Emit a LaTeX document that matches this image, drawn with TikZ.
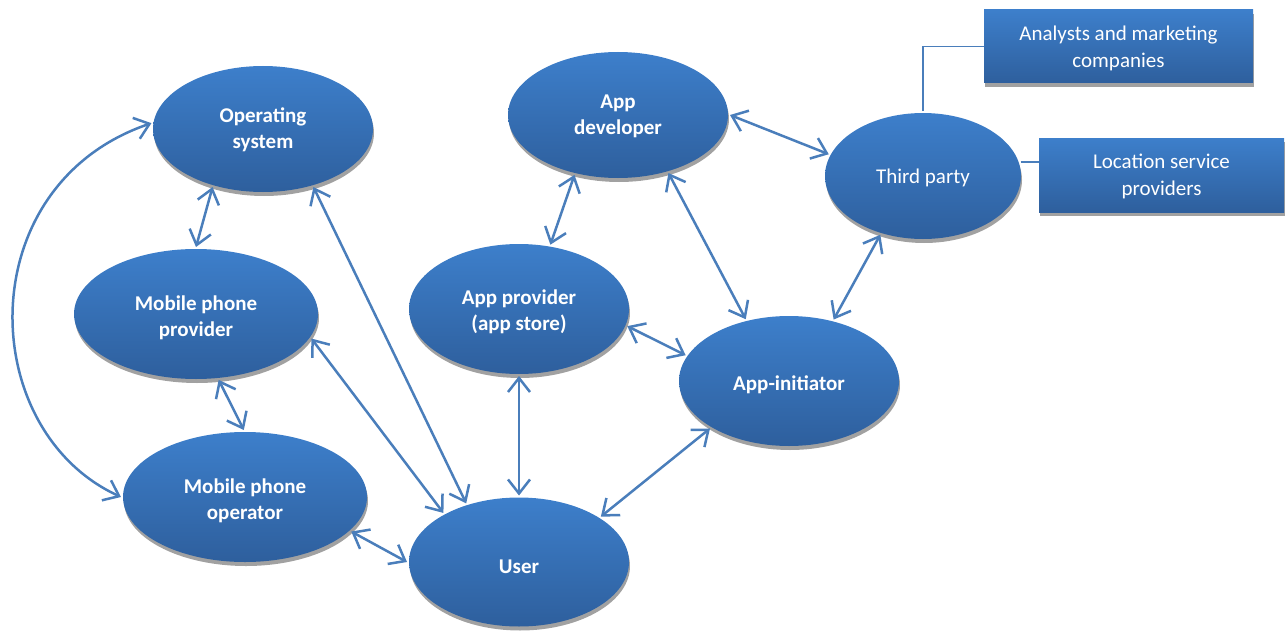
\documentclass[tikz,border=0pt]{standalone}
\usepackage{fontspec}
\setmainfont{Carlito}
\usetikzlibrary{arrows.meta,shapes.geometric,shadows,calc}
\definecolor{topblue}{RGB}{61,127,203}
\definecolor{botblue}{RGB}{46,95,157}
\definecolor{linkblue}{RGB}{74,126,187}
\newcommand\lowtxt[2]{\raisebox{-#1}[\height][\depth]{\begin{tabular}{@{}c@{}}#2\end{tabular}}}
\begin{document}
\begin{tikzpicture}[x=1pt,y=-1pt,
  bubble/.style={ellipse,draw=none,top color=topblue,bottom color=botblue,
    minimum width=220pt,minimum height=126pt,inner sep=0pt,outer sep=2pt,
    text=white,font=\fontsize{21}{26}\selectfont\bfseries,
    drop shadow={shadow xshift=1pt,shadow yshift=-4pt,fill=black!37,opacity=1}},
  wide/.style={minimum width=244pt,minimum height=130pt},
  plain/.style={font=\fontsize{21}{26}\selectfont},
  box/.style={rectangle,draw=none,top color=topblue,bottom color=botblue,
    inner sep=0pt,text=white,font=\fontsize{21}{27}\selectfont,
    drop shadow={shadow xshift=1pt,shadow yshift=-4pt,fill=black!37,opacity=1}},
  arr/.style={draw=linkblue,line width=2.5pt,
    {Straight Barb[length=14pt,width=22pt]}-{Straight Barb[length=14pt,width=22pt]}},
  link/.style={draw=linkblue,line width=1.6pt}]
\useasboundingbox (0,0) rectangle (1288,634);

\node[bubble] (os) at (263,129) {\lowtxt{1pt}{Operating\\system}};
\node[bubble] (dev) at (618,115) {\lowtxt{1pt}{App\\developer}};
\node[bubble,plain,minimum width=196pt] (tp) at (923,176) {\lowtxt{2pt}{Third party}};
\node[bubble,wide] (mpp) at (196,314) {\lowtxt{4pt}{Mobile phone\\provider}};
\node[bubble,minimum height=130pt] (ap) at (519,309) {\lowtxt{3pt}{App provider\\(app store)}};
\node[bubble,minimum height=130pt] (ai) at (789,381) {\lowtxt{4pt}{App-initiator}};
\node[bubble,wide] (mpo) at (245,497) {\lowtxt{4pt}{Mobile phone\\operator}};
\node[bubble,minimum height=129pt] (user) at (519,562) {\lowtxt{6pt}{User}};

\node[box,minimum width=269pt,minimum height=73pt] (an) at (1118.5,46.5) {\lowtxt{2pt}{Analysts and marketing\\companies}};
\node[box,minimum width=245pt,minimum height=74pt] (loc) at (1161.5,175) {\lowtxt{2pt}{Location service\\providers}};

\draw[link] (tp.north) |- (an.west);
\draw[link] (tp.8) -- (tp.8 -| loc.west);

\draw[arr] (os.229) -- (mpp.90);
\draw[arr] (os.177) .. controls (-30,185) and (-25,430) .. (mpo.180);
\draw[arr] (os.311.6) -- (user.132.1);
\draw[arr] (mpp.348) -- (user.147.2);
\draw[arr] (mpp.289.6) -- (mpo.91.6);
\draw[arr] (mpo.342.8) -- (user.180.5);
\draw[arr] (ap.270) -- (user.90);
\draw[arr] (dev.234.9) -- (ap.64.1);
\draw[arr] (dev.311.2) -- (ai.125.7);
\draw[arr] (dev.0) -- (tp.167.7);
\draw[arr] (tp.234.5) -- (ai.54.9);
\draw[arr] (ap.351.6) -- (ai.166.3);
\draw[arr] (ai.211.9) -- (user.29.6);
\end{tikzpicture}
\end{document}
